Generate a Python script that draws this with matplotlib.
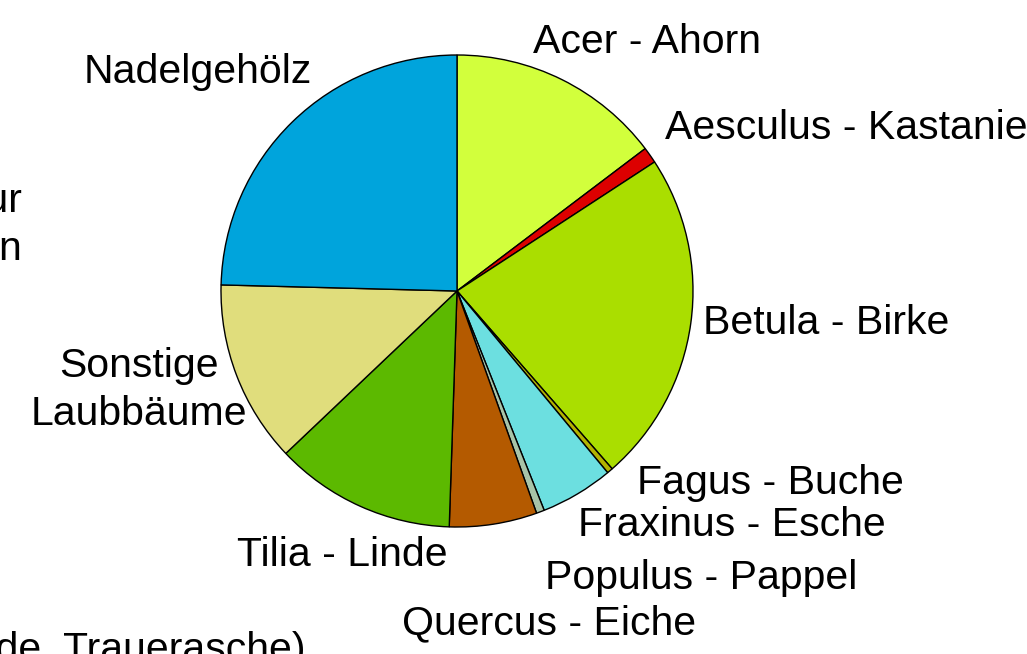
import matplotlib.pyplot as plt

# share of street trees per genus (percent)
genera = ["Acer - Ahorn", "Aesculus - Kastanie", "Betula - Birke", "Fagus - Buche",
          "Fraxinus - Esche", "Populus - Pappel", "Quercus - Eiche", "Tilia - Linde",
          "Sonstige\nLaubbäume", "Nadelgehölz"]
shares = [14.7, 1.1, 22.8, 0.4, 5.0, 0.55, 6.0, 12.4, 12.5, 24.6]
colors = ["#d2ff3c", "#dd0000", "#aade00", "#b3b300", "#6cdfe0",
          "#a8c4a8", "#b45a00", "#5cb900", "#e0dd7c", "#00a4dc"]

# where each label sits, in pie radius units (center = 0,0)
label_pos = [(0.322, 1.054), (0.881, 0.691), (1.042, -0.136), (0.763, -0.814),
             (0.513, -0.992), (0.373, -1.216), (-0.233, -1.41), (-0.932, -1.119),
             (-1.347, -0.418), (-0.614, 0.928)]
label_ha = ["left", "left", "left", "left", "left", "left", "left", "left",
            "center", "right"]

plt.rcParams['font.family'] = ['Liberation Sans', 'DejaVu Sans']
FS = 29.5

fig = plt.figure(figsize=(10.27, 6.54), dpi=100)
ax = fig.add_axes([0, 0, 1, 1])

ax.pie(shares, colors=colors, startangle=90, counterclock=False, radius=1,
       wedgeprops=dict(edgecolor="black", linewidth=1.0))

for name, (x, y), ha in zip(genera, label_pos, label_ha):
    ax.text(x, y, name, ha=ha, va="center", fontsize=FS, linespacing=1.33)

# notes that run off the left and bottom edge
ax.text(-1.843, 0.28, "Obstgehölze nur\nvereinzelt vorhanden", ha="right", va="center",
        fontsize=FS, linespacing=1.33)
ax.text(-0.644, -1.52, "(Trauerweide, Trauerasche)", ha="right", va="center", fontsize=FS)

ax.set_xlim(-457 / 236, (1027 - 457) / 236)
ax.set_ylim(-363 / 236, (654 - 363) / 236)
ax.set_aspect("equal")
ax.axis("off")

fig.savefig("out.png", dpi=100)
